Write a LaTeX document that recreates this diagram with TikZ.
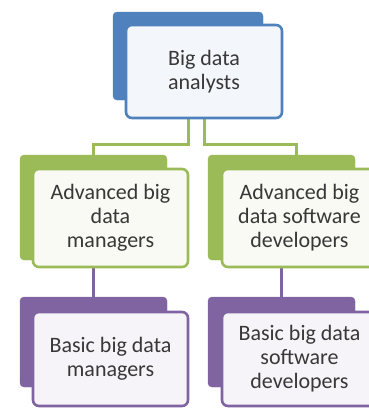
\documentclass[tikz,border=0pt]{standalone}
\usepackage{fontspec}
\setmainfont{Carlito}
\usepackage{xcolor}
\usetikzlibrary{positioning}
\definecolor{topblue}{RGB}{79,129,189}
\definecolor{leafgreen}{RGB}{155,187,89}
\definecolor{plum}{RGB}{128,100,162}
\definecolor{ink}{RGB}{56,56,56}

\begin{document}
\begin{tikzpicture}[x=1pt,y=-1pt,
      back/.style={draw=#1,fill=#1,rounded corners=4pt,inner sep=0pt},
      card/.style={draw=#1,fill=#1!7,line width=2.6pt,rounded corners=6pt,inner sep=0pt,
        align=center,text=ink,font=\fontsize{22}{24}\selectfont},
      link/.style={draw=#1,line width=3pt}]
    \useasboundingbox (0,0) rectangle (368,408);
    % back plates
    \node[back=topblue,minimum width=150pt,minimum height=88pt]    (topB) at (188,56)    {};
    \node[back=leafgreen,minimum width=147pt,minimum height=105pt] (mgrB) at (93.5,207.5) {};
    \node[back=leafgreen,minimum width=147pt,minimum height=105pt] (devB) at (281.5,207.5) {};
    \node[back=plum,minimum width=147pt,minimum height=90pt]       (basB) at (93.5,342)  {};
    \node[back=plum,minimum width=147pt,minimum height=90pt]       (bsdB) at (281.5,342) {};
    % connectors
    \draw[link=leafgreen] (topB.south) |- ([yshift=10pt]mgrB.north) -- (mgrB.north);
    \draw[link=leafgreen] (topB.south -| 204,0) |- ([xshift=15pt,yshift=10pt]devB.north) -- ([xshift=15pt]devB.north);
    \draw[link=plum] (mgrB.north |- 0,267) -- (basB.north);
    \draw[link=plum] (devB.north |- 0,267) -- (bsdB.north);
    % front cards
    \node[card=topblue,minimum width=156pt,minimum height=93pt]   (top) at (204,71.5)  {Big data\\analysts};
    \node[card=leafgreen,minimum width=155pt,minimum height=98pt] (mgr) at (110.5,218) {Advanced big\\data\\managers};
    \node[card=leafgreen,minimum width=155pt,minimum height=98pt] (dev) at (299.5,218) {Advanced big\\data software\\developers};
    \node[card=plum,minimum width=155pt,minimum height=94pt]      (bas) at (110.5,359) {Basic big data\\managers};
    \node[card=plum,minimum width=155pt,minimum height=94pt]      (bsd) at (299.5,359) {Basic big data\\software\\developers};
  \end{tikzpicture}
\end{document}
